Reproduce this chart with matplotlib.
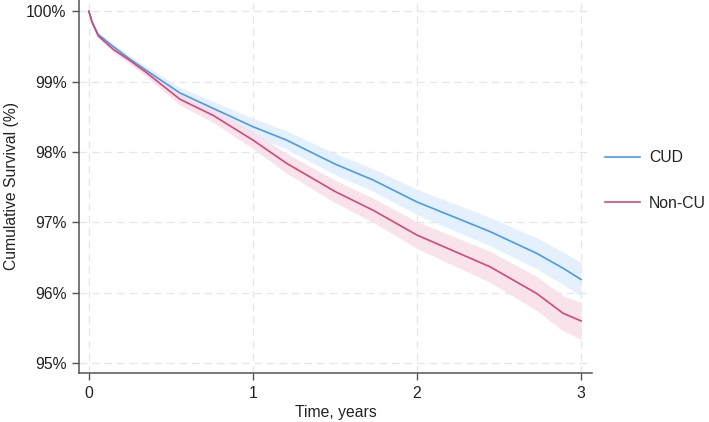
import matplotlib
matplotlib.use("Agg")
import matplotlib.pyplot as plt
import numpy as np

plt.rcParams['font.family'] = ['Liberation Sans', 'DejaVu Sans']

time = [0.0, 0.02, 0.057, 0.148, 0.25, 0.35, 0.555, 0.758, 1.0, 1.205, 1.5, 1.735, 2.0, 2.445, 2.73, 2.89, 3.0]
cud = [100.0, 99.85, 99.67, 99.50, 99.32, 99.16, 98.84, 98.62, 98.36, 98.17, 97.83, 97.60, 97.29, 96.87, 96.56, 96.35, 96.19]
noncu = [100.0, 99.84, 99.65, 99.46, 99.30, 99.13, 98.75, 98.52, 98.17, 97.84, 97.44, 97.17, 96.82, 96.37, 95.99, 95.71, 95.60]
cud_hw = [0.0, 0.01, 0.02, 0.04, 0.05, 0.06, 0.08, 0.10, 0.12, 0.13, 0.15, 0.16, 0.18, 0.20, 0.22, 0.23, 0.24]
noncu_hw = [0.0, 0.01, 0.02, 0.04, 0.05, 0.06, 0.08, 0.10, 0.12, 0.14, 0.16, 0.17, 0.19, 0.22, 0.24, 0.25, 0.26]
labels = ["CUD", "Non-CU"]
yticks = [95, 96, 97, 98, 99, 100]
xticks = [0, 1, 2, 3]

blue = "#4b9be3"
red = "#d2477c"
FS = 11.3

fig = plt.figure(figsize=(7.09, 4.22), dpi=100)
ax = fig.add_axes([79/709, 49/422, (592-79)/709, (422-49)/422])

t = np.array(time)
for vals, hw, bc in [(cud, cud_hw, "#e0eefc"), (noncu, noncu_hw, "#f9dee8")]:
    v = np.array(vals); h = np.array(hw)
    ax.fill_between(t, v - h, v + h, color=bc, alpha=0.85, lw=0, zorder=1)
for vals, c, lab in [(cud, blue, labels[0]), (noncu, red, labels[1])]:
    ax.plot(time, vals, color=c, lw=1.2, label=lab, zorder=3)

ax.set_xlim(-0.06, 3.067)
ax.set_ylim(94.86, 100.16)
ax.set_xticks(xticks)
ax.set_yticks(yticks)
ax.set_yticklabels([f"{v}%" for v in yticks])
ax.grid(True, color="#e6e6e6", linestyle=(0, (6, 4)), lw=0.9, zorder=0)
ax.set_axisbelow(True)
for s in ["top", "right"]:
    ax.spines[s].set_visible(False)
for s in ["left", "bottom"]:
    ax.spines[s].set_color("#555555")
    ax.spines[s].set_linewidth(1.1)
ax.tick_params(axis="both", direction="out", length=5, width=1, color="#555555",
               labelsize=FS, labelcolor="#222222", pad=4)
ax.set_xlabel("Time, years", fontsize=FS, color="#222222", labelpad=3)
ax.set_ylabel("Cumulative Survival (%)", fontsize=FS, color="#222222", labelpad=5)

leg = fig.legend(loc="center left", bbox_to_anchor=(599/709, (422-180.5)/422), frameon=False,
                 fontsize=FS, handlelength=2.2, labelspacing=1.95, handletextpad=0.6,
                 borderaxespad=0)
for txt in leg.get_texts():
    txt.set_color("#222222")

fig.savefig("out.png", dpi=100)
